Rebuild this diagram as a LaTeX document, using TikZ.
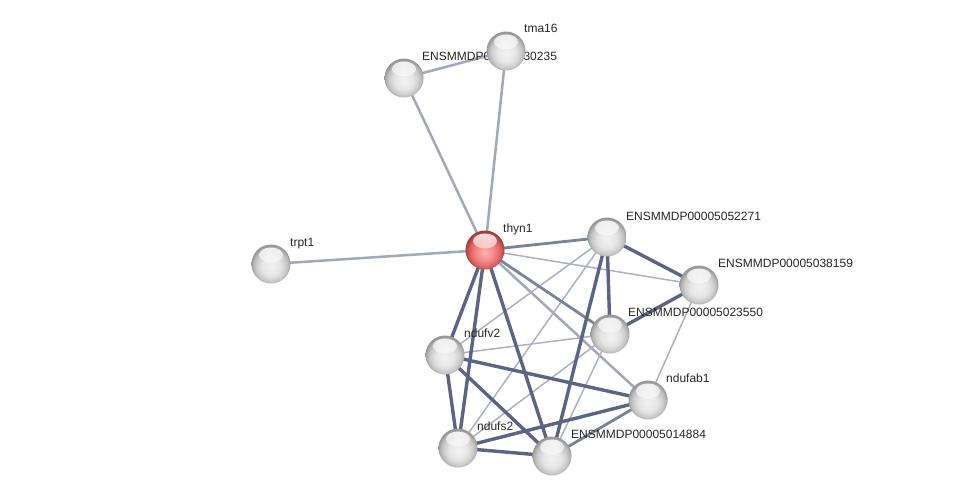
\documentclass[tikz,border=0pt]{standalone}
\usepackage{fontspec}
\setmainfont{Liberation Sans}
\usetikzlibrary{fadings}
\definecolor{edark}{HTML}{5C6484}
\definecolor{emid}{HTML}{7A819C}
\definecolor{elight}{HTML}{A2A7BC}
\definecolor{ethin}{HTML}{ABB0C4}
\pgfdeclareradialshading{gball}{\pgfpoint{0bp}{-4bp}}{color(0bp)=(black!5); color(12bp)=(black!10); color(19bp)=(black!20); color(23bp)=(black!30); color(25bp)=(black!40); color(50bp)=(black!40)}
\pgfdeclareradialshading{rball}{\pgfpoint{0bp}{-4bp}}{color(0bp)=(red!30!white); color(12bp)=(red!45!white!95!black); color(19bp)=(red!55!white!88!black); color(23bp)=(red!60!white!75!black); color(25bp)=(red!60!white!62!black); color(50bp)=(red!60!white!62!black)}
\tikzfading[name=hlfade, top color=transparent!10, bottom color=transparent!100]
\tikzset{
  ball/.style={circle, minimum size=39pt, inner sep=0pt, shade, shading=gball,
    path picture={\fill[white, path fading=hlfade] ([yshift=9pt]path picture bounding box.center) ellipse (12pt and 7.5pt);}},
  redball/.style={ball, shading=rball},
  lbl/.style={anchor=base west, inner sep=0pt, font=\fontsize{12}{14}\selectfont, text=black!85},
  thick/.style={draw=edark, line width=3.4pt},
  mid/.style={draw=emid, line width=2.8pt},
  light/.style={draw=elight, line width=2.5pt},
  thin/.style={draw=ethin, line width=1.5pt},
}
\begin{document}
\begin{tikzpicture}[x=1pt, y=-1pt]
\useasboundingbox (0,0) rectangle (976,501);
% node positions
\coordinate (p-tma16) at (506,51);
\coordinate (p-e30235) at (404,78);
\coordinate (p-trpt1) at (271,264);
\coordinate (p-thyn1) at (485,250);
\coordinate (p-e52271) at (607,237);
\coordinate (p-e38159) at (699,285);
\coordinate (p-e23550) at (610,334);
\coordinate (p-ndufv2) at (445,355);
\coordinate (p-ndufab1) at (648,400);
\coordinate (p-ndufs2) at (458,448);
\coordinate (p-e14884) at (552,456);
% edges
\draw[light] (p-e30235) -- (p-tma16);
\draw[light] (p-e30235) -- (p-thyn1);
\draw[light] (p-tma16) -- (p-thyn1);
\draw[light] (p-trpt1) -- (p-thyn1);
\draw[thin] (p-thyn1) -- (p-e38159);
\draw[light] (p-thyn1) -- (p-ndufab1);
\draw[thin] (p-e52271) -- (p-ndufv2);
\draw[thin] (p-e52271) -- (p-ndufs2);
\draw[thin] (p-e38159) -- (p-ndufab1);
\draw[thin] (p-e23550) -- (p-ndufv2);
\draw[thin] (p-e23550) -- (p-ndufs2);
\draw[thin] (p-e23550) -- (p-e14884);
\draw[mid] (p-thyn1) -- (p-e23550);
\draw[mid] (p-thyn1) -- (p-e52271);
\draw[mid] (p-e14884) -- (p-ndufab1);
\draw[thick] (p-thyn1) -- (p-ndufv2);
\draw[thick] (p-thyn1) -- (p-ndufs2);
\draw[thick] (p-thyn1) -- (p-e14884);
\draw[thick] (p-e52271) -- (p-e38159);
\draw[thick] (p-e52271) -- (p-e23550);
\draw[thick] (p-e52271) -- (p-e14884);
\draw[thick] (p-e38159) -- (p-e23550);
\draw[thick] (p-ndufv2) -- (p-ndufs2);
\draw[thick] (p-ndufv2) -- (p-e14884);
\draw[thick] (p-ndufv2) -- (p-ndufab1);
\draw[thick] (p-ndufs2) -- (p-e14884);
\draw[thick] (p-ndufs2) -- (p-ndufab1);
% labels
\node[lbl] (l-e30235) at (422,60) {ENSMMDP00005030235};
\node[lbl] (l-tma16) at (524,32) {tma16};
\node[lbl] (l-trpt1) at (290,246) {trpt1};
\node[lbl] (l-thyn1) at (503,232) {thyn1};
\node[lbl] (l-e52271) at (626,220) {ENSMMDP00005052271};
\node[lbl] (l-e38159) at (718,267) {ENSMMDP00005038159};
\node[lbl] (l-e23550) at (628,316) {ENSMMDP00005023550};
\node[lbl] (l-ndufv2) at (464,337) {ndufv2};
\node[lbl] (l-ndufab1) at (666,382) {ndufab1};
\node[lbl] (l-ndufs2) at (477,430) {ndufs2};
\node[lbl] (l-e14884) at (571,438) {ENSMMDP00005014884};
% balls
\node[ball] (e30235) at (p-e30235) {};
\node[ball] (tma16) at (p-tma16) {};
\node[ball] (trpt1) at (p-trpt1) {};
\node[redball] (thyn1) at (p-thyn1) {};
\node[ball] (e52271) at (p-e52271) {};
\node[ball] (e38159) at (p-e38159) {};
\node[ball] (e23550) at (p-e23550) {};
\node[ball] (ndufv2) at (p-ndufv2) {};
\node[ball] (ndufab1) at (p-ndufab1) {};
\node[ball] (ndufs2) at (p-ndufs2) {};
\node[ball] (e14884) at (p-e14884) {};
\end{tikzpicture}
\end{document}
